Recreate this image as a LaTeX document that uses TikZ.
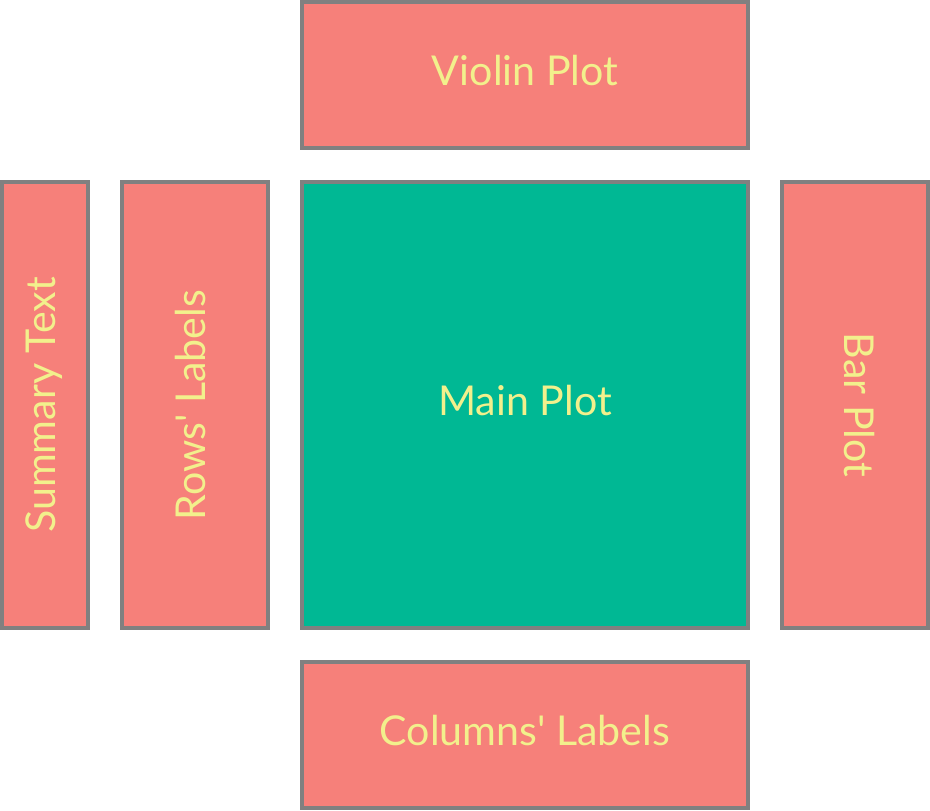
\documentclass[tikz,border=0pt]{standalone}
\usepackage{fontspec}
\setmainfont{Lato}
\definecolor{panelred}{HTML}{F6807A}
\definecolor{panelgreen}{HTML}{00B894}
\definecolor{paneltext}{HTML}{F2F08C}
\definecolor{panelline}{HTML}{808080}
\begin{document}
\begin{tikzpicture}[
		panel/.style={draw=panelline, line width=0.04cm, fill=panelred, text=paneltext,
			inner sep=0pt, text depth=0.09cm, font=\fontsize{11.7pt}{14pt}\selectfont},
		wide/.style={minimum width=4.46cm, minimum height=1.46cm}
	]
		\useasboundingbox (0,0) rectangle (9.3,-8.1);
		
		\node[panel, wide] at (5.25,-0.75) (violin) {Violin Plot};
		\node[panel, minimum width=4.46cm, minimum height=4.46cm, fill=panelgreen] at (5.25,-4.05) (main) {Main Plot};
		\node[panel, wide] at (5.25,-7.35) (columns) {Columns\textquotesingle{} Labels};
		
		\node[panel, wide, minimum height=0.86cm, rotate=90] at (0.45,-4.05) (summary) {Summary Text};
		\node[panel, wide, rotate=90] at (1.95,-4.05) (rows) {Rows\textquotesingle{} Labels};
		\node[panel, wide, rotate=-90] at (8.55,-4.05) (bar) {Bar Plot};
	\end{tikzpicture}
\end{document}
